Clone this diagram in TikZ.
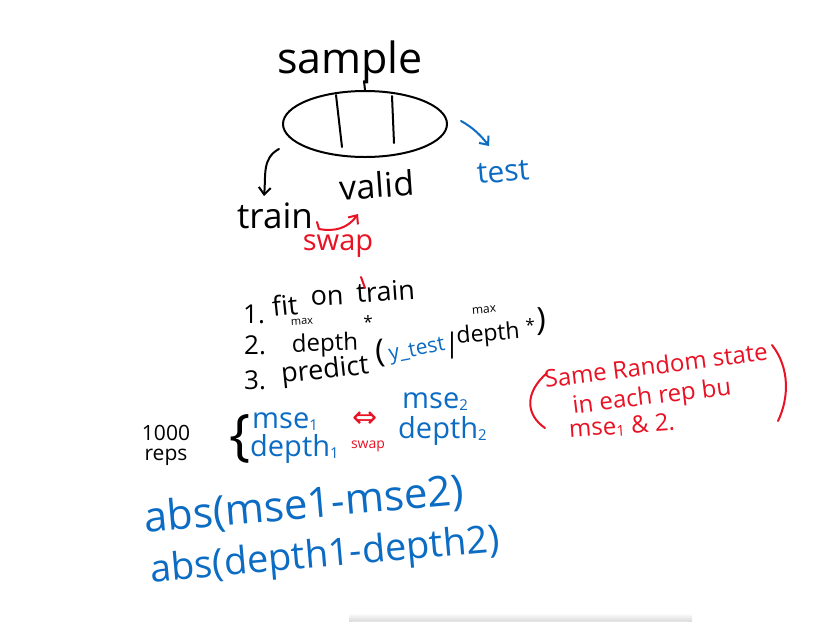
\documentclass[tikz,border=0pt]{standalone}
\usepackage{fontspec}
\setmainfont{Open Sans}
\newfontfamily\symfont{DejaVu Sans}
\usetikzlibrary{shapes.geometric,arrows.meta}
\definecolor{inkblue}{RGB}{12,108,196}
\definecolor{inkred}{RGB}{232,18,36}
\newcommand\lowidx[1]{\raisebox{-0.15ex}{\fontsize{15}{15}\selectfont #1}}
\begin{document}
\begin{tikzpicture}[x=1pt,y=-1pt,line cap=round,line join=round,
  hw/.style={inner sep=0pt,font=\fontsize{#1}{#1}\selectfont},
  pen/.style={line width=2pt},
  tip/.style={-{Straight Barb[length=7pt,width=12pt]}}]
\fill[white] (0,0) rectangle (840,625);
\useasboundingbox (0,0) rectangle (840,625);

% sample and its ellipse
\node[hw=43] (sample) at (350,62) {sample};
\node[draw,ellipse,pen,minimum width=164,minimum height=66,inner sep=0pt] (samp) at (365,124) {};
\coordinate (pstem) at (364,81);
\draw[pen] (pstem) -- (samp.north);
\draw[pen] (336,95) -- (342,147);
\draw[pen] (392,96) -- (394,143);

% splits
\node[hw=35] (train) at (275,216) {train};
\node[hw=34,rotate=4] (valid) at (377,185) {valid};
\node[hw=30,text=inkblue,rotate=5] (test) at (503,172) {test};
\coordinate (trainFrom) at (279,149);
\coordinate (trainTip) at (264,196);
\draw[pen,tip] (trainFrom) .. controls (262,158) and (266,175) .. (trainTip);
\coordinate (testFrom) at (461,121);
\coordinate (testTip) at (489,146);
\draw[pen,inkblue,tip] (testFrom) .. controls (474,128) and (482,137) .. (testTip);
\coordinate (swapA) at (317,222);
\coordinate (swapB) at (358,214);
\draw[pen,inkred,tip] (swapA) -- (319,229) .. controls (335,232) and (348,228) .. (swapB);
\node[hw=29,text=inkred] (swapTop) at (338,246) {swap};

% steps
\node[hw=26,anchor=base west] (n1) at (243,323) {1.};
\node[hw=27,anchor=base west,rotate=6] (fitw) at (273,317) {fit};
\node[hw=27,anchor=base west,rotate=3] (onw) at (311,306) {on};
\node[hw=27,anchor=base west,rotate=4] (trainS) at (357,303) {train};
\draw[pen,inkred] (361,277) -- (365,288);
\node[hw=26,anchor=base west] (n2) at (244,354) {2.};
\node[hw=24,anchor=base west,rotate=2] (depthA) at (292,352) {depth};
\node[hw=11,rotate=3] (maxA) at (302,322) {max};
\node[hw=17] (starA) at (368,322) {*};
\node[hw=26,anchor=base west] (n3) at (244,389) {3.};
\node[hw=27,anchor=base west,rotate=6] (pred) at (282,383) {predict};
\node[hw=32,rotate=5] (openP) at (380,353) {(};
\node[hw=21,anchor=base west,rotate=11,text=inkblue] (ytest) at (390,361) {y\_test};
\node[hw=27] (bar) at (452,346) {|};
\node[hw=23,anchor=base west,rotate=5] (depthB) at (457,344) {depth};
\node[hw=12,rotate=5] (maxB) at (484,310) {max};
\node[hw=17] (starB) at (530,325) {*};
\node[hw=32] (closeB) at (541,322) {)};

% reps block
\node[hw=21,align=center] (reps) at (166,445) {1000\\[-1pt]reps};
\node[hw=56] (brace) at (240,439) {\{};
\node[hw=29,text=inkblue,anchor=base west] (mse1) at (252,428) {mse\lowidx{1}};
\node[hw=29,text=inkblue,anchor=base west] (depth1) at (250,456) {depth\lowidx{1}};
\node[hw=30,text=inkred] (dbl) at (365,420) {\symfont ⇔};
\node[hw=14,text=inkred] (swapB2) at (368,446) {swap};
\node[hw=29,text=inkblue,anchor=base west] (mse2) at (402,408) {mse\lowidx{2}};
\node[hw=29,text=inkblue,anchor=base west] (depth2) at (398,438) {depth\lowidx{2}};

% note
\draw[pen,inkred] (547,373) .. controls (524,393) and (526,415) .. (545,428);
\draw[pen,inkred] (772,345) .. controls (790,368) and (789,398) .. (778,421);
\node[hw=24,text=inkred,rotate=7] (note1) at (656,365) {Same Random state};
\node[hw=24,text=inkred,rotate=7] (note2) at (652,398) {in each rep bu};
\node[hw=24,text=inkred,rotate=4] (note3) at (622,426) {mse\lowidx{1} \& 2.};

% results
\node[hw=42,text=inkblue,rotate=5] (abs1) at (304,506) {abs(mse1-mse2)};
\node[hw=38,text=inkblue,rotate=5] (abs2) at (325,557) {abs(depth1-depth2)};

% bottom window edge
\shade[top color=white,bottom color=black!14] (349,613) rectangle (692,621);
\fill[white] (353,621) rectangle (688,626);
\draw[black!10] (353,621) -- (688,621);
\end{tikzpicture}
\end{document}
